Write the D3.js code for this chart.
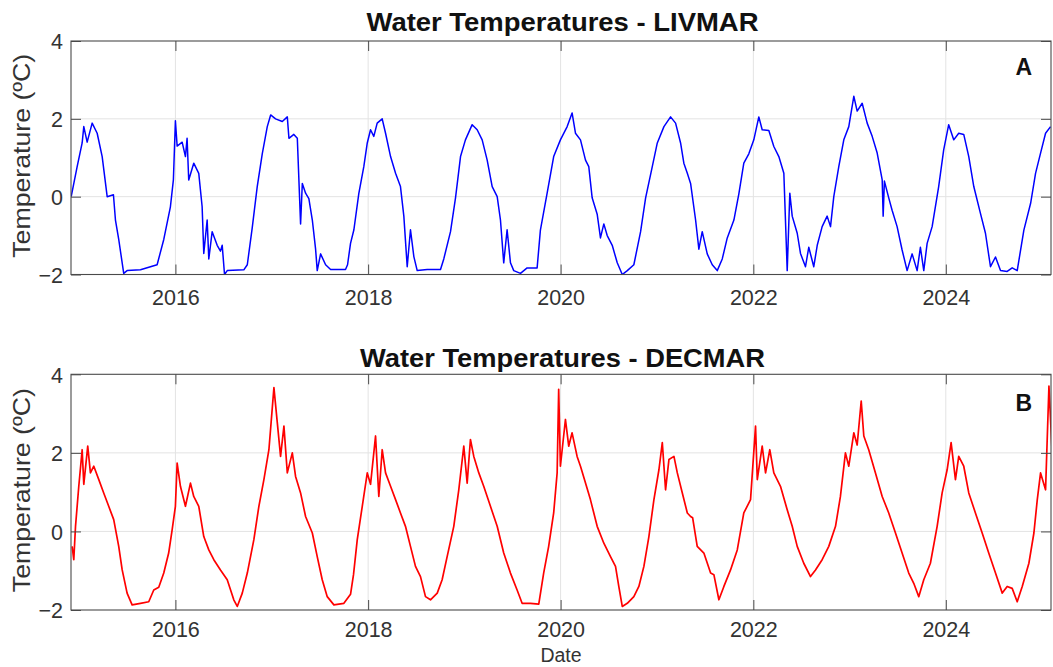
<!DOCTYPE html>
<html><head><meta charset="utf-8">
<script src="https://cdn.jsdelivr.net/npm/d3@7"></script>
<style>
html,body{margin:0;padding:0;background:#fff;}
svg{display:block;font-family:"Liberation Sans",Arial,Helvetica,sans-serif;}
</style>
</head><body>
<svg id="chart" width="1053" height="667"></svg>
<script>
// ---------------- data ----------------
const xDomainDates = ["2014-12-01", "2025-02-03"];
const xTickYears = [2016, 2018, 2020, 2022, 2024];
const yTicks = [-2, 0, 2, 4];
const yDomain = [-2, 4];
const panelTitles = ["Water Temperatures - LIVMAR", "Water Temperatures - DECMAR"];
const panelLetters = ["A", "B"];
const xLabel = "Date";
const yLabel = "Temperature (ºC)";

// LIVMAR: decimal year / temperature (ºC)
const livYears = [2014.917,2014.979,2015.031,2015.048,2015.083,2015.135,2015.187,2015.239,2015.291,2015.356,
2015.377,2015.411,2015.463,2015.498,2015.637,2015.810,2015.879,2015.948,2015.979,2016.000,
2016.018,2016.070,2016.104,2016.121,2016.138,2016.190,2016.242,2016.277,2016.294,2016.329,
2016.346,2016.381,2016.433,2016.467,2016.485,2016.509,2016.537,2016.709,2016.745,2016.796,
2016.848,2016.900,2016.952,2016.987,2017.038,2017.108,2017.160,2017.177,2017.228,2017.264,
2017.298,2017.316,2017.350,2017.384,2017.420,2017.454,2017.471,2017.506,2017.558,2017.610,
2017.765,2017.786,2017.817,2017.852,2017.903,2017.955,2017.991,2018.025,2018.059,2018.094,
2018.146,2018.181,2018.233,2018.285,2018.336,2018.371,2018.406,2018.440,2018.475,2018.510,
2018.614,2018.752,2018.786,2018.856,2018.908,2018.960,2019.011,2019.081,2019.133,2019.185,
2019.237,2019.289,2019.341,2019.375,2019.409,2019.444,2019.479,2019.513,2019.583,2019.652,
2019.756,2019.790,2019.860,2019.928,2019.998,2020.068,2020.119,2020.154,2020.206,2020.258,
2020.292,2020.327,2020.379,2020.413,2020.448,2020.483,2020.535,2020.587,2020.639,2020.691,
2020.759,2020.829,2020.881,2020.950,2021.002,2021.071,2021.140,2021.192,2021.244,2021.278,
2021.314,2021.348,2021.400,2021.434,2021.469,2021.521,2021.573,2021.625,2021.677,2021.729,
2021.798,2021.850,2021.901,2021.953,2022.005,2022.057,2022.092,2022.161,2022.213,2022.265,
2022.317,2022.352,2022.379,2022.404,2022.456,2022.490,2022.542,2022.576,2022.628,2022.664,
2022.715,2022.767,2022.802,2022.836,2022.888,2022.940,2022.992,2023.044,2023.079,2023.131,
2023.183,2023.235,2023.287,2023.339,2023.349,2023.362,2023.407,2023.442,2023.494,2023.546,
2023.598,2023.650,2023.702,2023.736,2023.771,2023.806,2023.858,2023.926,2023.978,2024.030,
2024.082,2024.134,2024.186,2024.238,2024.290,2024.359,2024.411,2024.463,2024.515,2024.567,
2024.636,2024.688,2024.740,2024.809,2024.879,2024.930,2024.982,2025.034,2025.086];
const livTemps = [0.0,0.77,1.38,1.8,1.4,1.89,1.63,1.03,0.0,0.05,
-0.6,-1.1,-1.97,-1.9,-1.88,-1.75,-1.1,-0.26,0.43,1.95,
1.3,1.4,1.03,1.5,0.43,0.86,0.6,-0.26,-1.46,-0.6,
-1.6,-0.9,-1.25,-1.4,-1.25,-2.0,-1.9,-1.88,-1.75,-0.8,
0.26,1.1,1.8,2.1,2.0,1.93,2.05,1.5,1.6,1.5,
-0.7,0.34,0.09,-0.05,-0.6,-1.35,-1.9,-1.47,-1.75,-1.87,
-1.87,-1.75,-1.2,-0.85,0.08,0.77,1.38,1.72,1.55,1.89,
2.0,1.63,1.03,0.6,0.26,-0.5,-1.8,-0.85,-1.54,-1.9,
-1.87,-1.87,-1.6,-0.9,-0.03,1.03,1.46,1.85,1.72,1.46,
0.94,0.26,0.0,-0.6,-1.7,-0.85,-1.7,-1.9,-1.97,-1.83,
-1.83,-0.86,0.09,1.03,1.46,1.8,2.15,1.63,1.46,0.94,
0.77,-0.03,-0.45,-1.06,-0.7,-1.0,-1.25,-1.7,-2.0,-1.9,
-1.75,-0.9,-0.03,0.77,1.38,1.8,2.05,1.89,1.38,0.86,
0.6,0.34,-0.6,-1.35,-0.9,-1.47,-1.75,-1.9,-1.6,-1.06,
-0.6,0.08,0.86,1.1,1.46,2.05,1.72,1.7,1.29,1.03,
0.6,-1.9,0.09,-0.5,-0.94,-1.46,-1.8,-1.3,-1.8,-1.25,
-0.77,-0.5,-0.77,0.0,0.77,1.46,1.8,2.58,2.2,2.4,
1.89,1.55,1.12,0.43,-0.5,0.4,-0.03,-0.35,-0.77,-1.37,
-1.9,-1.47,-1.9,-1.3,-1.9,-1.2,-0.77,0.26,1.2,1.85,
1.46,1.63,1.6,1.03,0.26,-0.43,-0.94,-1.8,-1.55,-1.9,
-1.92,-1.83,-1.9,-0.86,-0.17,0.6,1.12,1.63,1.8];

// DECMAR: decimal year / temperature (ºC)
const decYears = [2014.927,2014.944,2014.962,2014.996,2015.031,2015.048,2015.089,2015.117,2015.152,2015.204,
2015.255,2015.307,2015.359,2015.411,2015.447,2015.498,2015.550,2015.637,2015.723,2015.775,
2015.827,2015.879,2015.930,2015.966,2016.000,2016.018,2016.052,2016.104,2016.156,2016.190,
2016.242,2016.294,2016.346,2016.398,2016.467,2016.537,2016.605,2016.641,2016.693,2016.745,
2016.813,2016.865,2016.917,2016.969,2017.021,2017.056,2017.090,2017.125,2017.160,2017.212,
2017.246,2017.298,2017.350,2017.420,2017.471,2017.523,2017.575,2017.644,2017.748,2017.817,
2017.848,2017.887,2017.939,2017.991,2018.025,2018.077,2018.111,2018.146,2018.181,2018.233,
2018.285,2018.336,2018.388,2018.440,2018.492,2018.544,2018.596,2018.648,2018.718,2018.769,
2018.821,2018.890,2018.942,2018.994,2019.029,2019.063,2019.098,2019.150,2019.201,2019.271,
2019.341,2019.409,2019.479,2019.548,2019.600,2019.686,2019.773,2019.824,2019.876,2019.928,
2019.964,2019.980,2019.998,2020.050,2020.084,2020.119,2020.171,2020.206,2020.258,2020.309,
2020.379,2020.448,2020.517,2020.569,2020.603,2020.639,2020.691,2020.759,2020.811,2020.863,
2020.915,2020.967,2021.019,2021.054,2021.088,2021.123,2021.175,2021.210,2021.262,2021.314,
2021.348,2021.369,2021.417,2021.486,2021.556,2021.590,2021.642,2021.694,2021.763,2021.833,
2021.901,2021.971,2022.023,2022.041,2022.092,2022.127,2022.171,2022.213,2022.282,2022.352,
2022.404,2022.456,2022.524,2022.594,2022.646,2022.715,2022.784,2022.854,2022.905,2022.957,
2022.992,2023.044,2023.079,2023.121,2023.148,2023.199,2023.269,2023.339,2023.407,2023.477,
2023.546,2023.615,2023.667,2023.719,2023.771,2023.840,2023.910,2023.962,2024.014,2024.055,
2024.100,2024.134,2024.186,2024.238,2024.307,2024.377,2024.445,2024.515,2024.585,2024.636,
2024.688,2024.740,2024.792,2024.861,2024.913,2024.948,2024.982,2025.034,2025.069,2025.104];
const decTemps = [-0.38,-0.72,0.13,1.15,2.08,1.2,2.17,1.49,1.66,1.32,
0.98,0.64,0.3,-0.38,-0.98,-1.57,-1.87,-1.83,-1.79,-1.49,
-1.42,-1.06,-0.55,0.04,0.64,1.74,1.15,0.64,1.23,0.89,
0.64,-0.13,-0.47,-0.72,-0.98,-1.23,-1.74,-1.91,-1.57,-1.06,
-0.21,0.64,1.32,2.08,3.66,2.77,1.91,2.68,1.49,2.0,
1.4,0.98,0.38,-0.04,-0.64,-1.23,-1.66,-1.87,-1.83,-1.6,
-1.1,-0.21,0.64,1.49,1.2,2.43,0.89,2.08,1.49,1.15,
0.81,0.47,0.13,-0.38,-0.89,-1.15,-1.66,-1.74,-1.57,-1.23,
-0.64,0.13,1.06,2.17,1.23,2.34,1.91,1.49,1.15,0.64,
0.13,-0.55,-1.06,-1.49,-1.83,-1.83,-1.85,-1.06,-0.38,0.47,
1.49,3.62,1.66,2.85,2.17,2.51,1.91,1.66,1.23,0.81,
0.13,-0.3,-0.64,-0.89,-1.4,-1.91,-1.83,-1.66,-1.4,-0.89,
-0.13,0.81,1.57,2.26,1.06,1.83,1.91,1.49,0.98,0.47,
0.38,0.35,-0.38,-0.55,-1.06,-1.1,-1.74,-1.4,-0.98,-0.47,
0.47,0.81,2.68,1.32,2.17,1.49,2.08,1.49,1.15,0.55,
0.13,-0.38,-0.81,-1.15,-0.98,-0.72,-0.38,0.13,0.89,2.0,
1.66,2.51,2.2,3.32,2.43,2.08,1.49,0.89,0.47,-0.04,
-0.55,-1.06,-1.32,-1.66,-1.23,-0.81,0.13,0.98,1.57,2.26,
1.32,1.91,1.66,0.98,0.47,-0.04,-0.55,-1.06,-1.57,-1.4,
-1.45,-1.79,-1.4,-0.81,-0.04,0.81,1.49,1.06,3.7,1.91];

// ---------------- drawing ----------------
function decToDate(y) {
  const yr = Math.floor(y);
  const a = Date.UTC(yr, 0, 1), b = Date.UTC(yr + 1, 0, 1);
  return new Date(a + (y - yr) * (b - a));
}
const svg = d3.select("#chart");
const left = 71, right = 1051;
const panels = [
  {top: 41, bottom: 274.5, years: livYears, temps: livTemps, color: "#0000ff", width: 1.5, titleY: 31, letterY: 75, titleLen: 392, tickY: 15},
  {top: 374.3, bottom: 610, years: decYears, temps: decTemps, color: "#ff0000", width: 1.7, titleY: 366.5, letterY: 410.5, titleLen: 405, tickY: 12}
];
const x = d3.scaleUtc().domain(xDomainDates.map(s => new Date(s + "T00:00:00Z"))).range([left, right]);
const tickDates = xTickYears.map(y => new Date(Date.UTC(y, 0, 1)));
const axisColor = "#4a4a4a", gridColor = "#e3e3e3", textColor = "#333";

panels.forEach((p, i) => {
  const y = d3.scaleLinear().domain(yDomain).range([p.bottom, p.top]);
  const g = svg.append("g");
  const clipId = "clip" + i;
  svg.append("clipPath").attr("id", clipId).append("rect")
    .attr("x", left).attr("y", p.top).attr("width", right - left).attr("height", p.bottom - p.top);

  // grid
  g.append("g").selectAll("line").data(tickDates).join("line")
    .attr("x1", d => x(d)).attr("x2", d => x(d)).attr("y1", p.top).attr("y2", p.bottom)
    .attr("stroke", gridColor).attr("stroke-width", 1);
  g.append("g").selectAll("line").data(yTicks.filter(t => t > yDomain[0] && t < yDomain[1])).join("line")
    .attr("x1", left).attr("x2", right).attr("y1", d => y(d)).attr("y2", d => y(d))
    .attr("stroke", gridColor).attr("stroke-width", 1);

  // data line
  const data = p.years.map((yr, k) => ({d: decToDate(yr), v: p.temps[k]}));
  g.append("path").datum(data)
    .attr("clip-path", `url(#${clipId})`)
    .attr("fill", "none").attr("stroke", p.color).attr("stroke-width", p.width)
    .attr("stroke-linejoin", "round")
    .attr("d", d3.line().x(d => x(d.d)).y(d => y(d.v)));

  // axes (MATLAB-like, ticks inside, box on)
  const axB = g.append("g").attr("transform", `translate(0,${p.bottom})`)
    .call(d3.axisBottom(x).tickValues(tickDates).tickSizeInner(-10).tickSizeOuter(0).tickPadding(14).tickFormat(d3.utcFormat("%Y")));
  const axT = g.append("g").attr("transform", `translate(0,${p.top})`)
    .call(d3.axisTop(x).tickValues(tickDates).tickSizeInner(-10).tickSizeOuter(0).tickFormat(""));
  const axL = g.append("g").attr("transform", `translate(${left},0)`)
    .call(d3.axisLeft(y).tickValues(yTicks).tickSizeInner(-10).tickSizeOuter(0).tickPadding(8).tickFormat(d3.format("d")));
  const axR = g.append("g").attr("transform", `translate(${right},0)`)
    .call(d3.axisRight(y).tickValues(yTicks).tickSizeInner(-10).tickSizeOuter(0).tickFormat(""));
  [axB, axT, axL, axR].forEach(a => {
    a.select(".domain").remove();
    a.selectAll(".tick line").attr("stroke", axisColor).attr("stroke-width", 1);
    a.selectAll(".tick text").attr("fill", textColor).style("font-size", "21.5px")
      .style("font-family", '"Liberation Sans",Arial,sans-serif');
  });
  axB.selectAll(".tick text").attr("dy", "0.71em").attr("y", p.tickY);
  axL.selectAll(".tick text").attr("x", -8).attr("dy", "0.36em");

  // frame
  g.append("rect").attr("x", left).attr("y", p.top).attr("width", right - left).attr("height", p.bottom - p.top)
    .attr("fill", "none").attr("stroke", axisColor).attr("stroke-width", 1.1);

  // title
  svg.append("text").attr("x", (left + right) / 2 + 1.5).attr("y", p.titleY)
    .attr("text-anchor", "middle").attr("font-weight", "bold").attr("font-size", 26)
    .attr("textLength", p.titleLen).attr("lengthAdjust", "spacingAndGlyphs")
    .attr("fill", "#111").text(panelTitles[i]);

  // panel letter
  svg.append("text").attr("x", 1032).attr("y", p.letterY).attr("text-anchor", "end")
    .attr("font-weight", "bold").attr("font-size", 23).attr("fill", "#111").text(panelLetters[i]);

  // y label
  const cy = (p.top + p.bottom) / 2 - 2;
  svg.append("text").attr("transform", `translate(30,${cy}) rotate(-90)`)
    .attr("text-anchor", "middle").attr("font-size", 24).attr("fill", textColor)
    .attr("textLength", 204).attr("lengthAdjust", "spacingAndGlyphs")
    .text(yLabel);
});

// x label (bottom)
svg.append("text").attr("x", 561).attr("y", 662).attr("text-anchor", "middle")
  .attr("font-size", 19.5).attr("fill", textColor).text(xLabel);
</script>
</body></html>
